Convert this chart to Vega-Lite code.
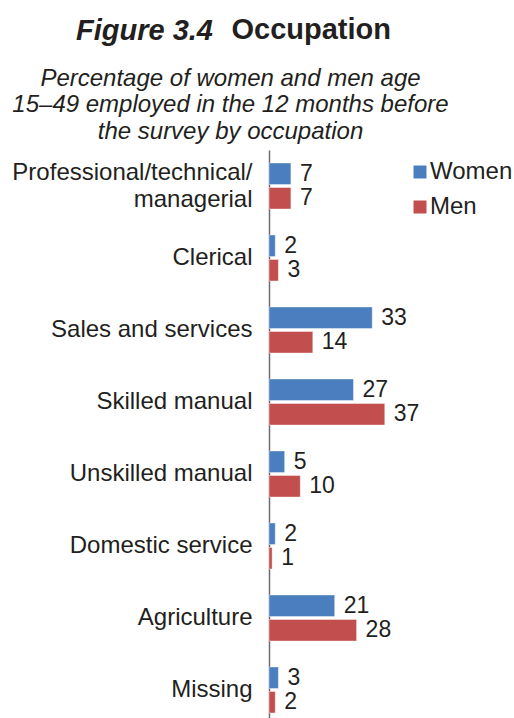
{
  "$schema": "https://vega.github.io/schema/vega-lite/v6.json",
  "autosize": "none",
  "width": 219,
  "height": 568,
  "padding": {"left": 269, "top": 150, "right": 26, "bottom": 0},
  "background": "white",
  "title": {
    "text": "Figure 3.4",
    "anchor": "start",
    "frame": "group",
    "dx": -193,
    "dy": 54,
    "font": "Liberation Sans",
    "fontSize": 29,
    "fontWeight": "bold",
    "fontStyle": "italic",
    "color": "#231f20",
    "baseline": "alphabetic",
    "offset": 0
  },
  "config": {"view": {"stroke": null}, "font": "Liberation Sans"},
  "data": {
    "values": [
      {"occupation": "Professional/technical/managerial", "sex": "Women", "value": 7},
      {"occupation": "Professional/technical/managerial", "sex": "Men", "value": 7},
      {"occupation": "Clerical", "sex": "Women", "value": 2},
      {"occupation": "Clerical", "sex": "Men", "value": 3},
      {"occupation": "Sales and services", "sex": "Women", "value": 33},
      {"occupation": "Sales and services", "sex": "Men", "value": 14},
      {"occupation": "Skilled manual", "sex": "Women", "value": 27},
      {"occupation": "Skilled manual", "sex": "Men", "value": 37},
      {"occupation": "Unskilled manual", "sex": "Women", "value": 5},
      {"occupation": "Unskilled manual", "sex": "Men", "value": 10},
      {"occupation": "Domestic service", "sex": "Women", "value": 2},
      {"occupation": "Domestic service", "sex": "Men", "value": 1},
      {"occupation": "Agriculture", "sex": "Women", "value": 21},
      {"occupation": "Agriculture", "sex": "Men", "value": 28},
      {"occupation": "Missing", "sex": "Women", "value": 3},
      {"occupation": "Missing", "sex": "Men", "value": 2}
    ]
  },
  "encoding": {
    "y": {
      "field": "occupation",
      "type": "nominal",
      "sort": null,
      "scale": {"range": [0, 576], "paddingInner": 0, "paddingOuter": 0},
      "axis": {
        "domain": true,
        "domainColor": "#6d6d6d",
        "domainWidth": 1.5,
        "ticks": false,
        "tickSize": 0,
        "grid": false,
        "labelPadding": 17,
        "labelFontSize": 24,
        "labelColor": "#231f20",
        "labelLimit": 300,
        "labelLineHeight": 27,
        "labelOffset": {"condition": {"test": "datum.label == 'Professional/technical/managerial'", "value": -13.5}, "value": 0},
        "labelExpr": "datum.label == 'Professional/technical/managerial' ? ['Professional/technical/', 'managerial'] : datum.label",
        "title": "Occupation",
        "titleAngle": 0,
        "titleX": -38,
        "titleY": -112,
        "titleAlign": "left",
        "titleBaseline": "alphabetic",
        "titleFontSize": 29,
        "titleFontWeight": "bold",
        "titleColor": "#231f20"
      }
    },
    "yOffset": {
      "field": "sex",
      "type": "nominal",
      "sort": ["Women", "Men"],
      "scale": {"paddingInner": 0.122, "paddingOuter": 0.53}
    },
    "x": {
      "field": "value",
      "type": "quantitative",
      "scale": {"domain": [0, 70], "nice": false},
      "axis": {
        "orient": "top",
        "labels": false,
        "ticks": false,
        "domain": false,
        "grid": false,
        "title": ["Percentage of women and men age", "15–49 employed in the 12 months before", "the survey by occupation"],
        "titleFontStyle": "italic",
        "titleFontWeight": "normal",
        "titleFontSize": 24,
        "titleColor": "#231f20",
        "titleX": -39,
        "titleY": -65,
        "titleAlign": "center",
        "titleBaseline": "alphabetic",
        "titleLineHeight": 26.5
      }
    }
  },
  "layer": [
    {
      "mark": {"type": "bar", "stroke": "white", "strokeWidth": 0.8, "strokeOpacity": 0.5},
      "encoding": {
        "color": {
          "field": "sex",
          "type": "nominal",
          "scale": {"domain": ["Women", "Men"], "range": ["#4a7ebf", "#c24f4d"]},
          "legend": {
            "title": null,
            "orient": "none",
            "legendX": 139,
            "legendY": 10,
            "symbolType": "square",
            "symbolSize": 169,
            "symbolStrokeWidth": 0,
            "labelFontSize": 24,
            "labelColor": "#231f20",
            "labelOffset": -2,
            "rowPadding": 11,
            "padding": 0
          }
        }
      }
    },
    {
      "mark": {"type": "text", "align": "left", "baseline": "middle", "dx": 9, "fontSize": 23, "color": "#231f20"},
      "encoding": {"text": {"field": "value", "type": "quantitative"}}
    }
  ]
}
